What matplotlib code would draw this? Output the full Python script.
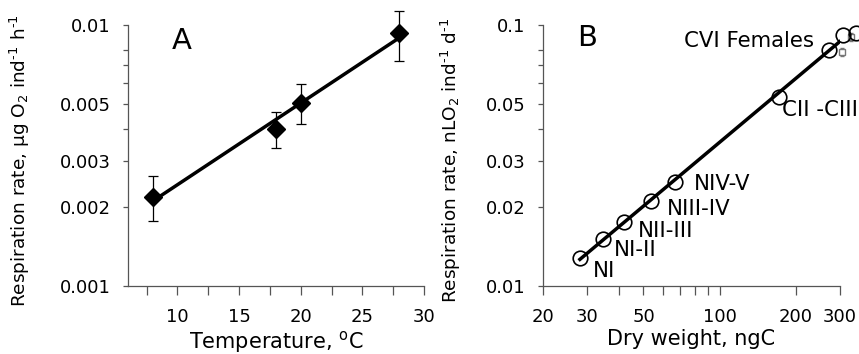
import matplotlib
matplotlib.use("Agg")
import matplotlib.pyplot as plt
from matplotlib.ticker import FixedLocator, FixedFormatter, NullFormatter
import numpy as np

plt.rcParams["font.family"] = ["DejaVu Sans"]

# panel A: respiration vs temperature
temp = [8, 18, 20, 28]
resp_a = [0.0022, 0.0040, 0.00504, 0.00929]
err_lo_a = [0.00177, 0.00339, 0.00418, 0.00728]
err_hi_a = [0.00265, 0.00466, 0.00593, 0.0113]

# panel B: respiration vs dry weight (stages)
weight = [28, 34.5, 42, 53.3, 66.9, 172, 272, 307, 348]
resp_b = [0.01285, 0.01514, 0.01764, 0.02117, 0.0251, 0.0528, 0.0802, 0.0915, 0.0932]
stages = ["NI", "NI-II", "NII-III", "NIII-IV", "NIV-V", "CII -CIII", "CVI Females"]
# small grey squares near the adult points
sq_weight = [305, 333]
sq_resp = [0.0788, 0.0900]
sq_err = [0.003, 0.003]

ytick_a = [0.001, 0.002, 0.003, 0.005, 0.01]
ytick_a_lab = ["0.001", "0.002", "0.003", "0.005", "0.01"]
yminor_a = [0.004, 0.006, 0.007, 0.008]
ytick_b = [0.01, 0.02, 0.03, 0.05, 0.1]
ytick_b_lab = ["0.01", "0.02", "0.03", "0.05", "0.1"]
yminor_b = [0.04, 0.06, 0.07, 0.08]
xtick_b = [20, 30, 50, 100, 200, 300]
xminor_b = [40, 60, 70, 80, 90]

W, H = 859, 354
fig = plt.figure(figsize=(W / 100, H / 100), dpi=100)
axA = fig.add_axes([128 / W, (H - 286) / H, 296 / W, 261 / H])
axB = fig.add_axes([543 / W, (H - 286) / H, 297 / W, 261 / H])

spine_col = "#555555"
for ax in (axA, axB):
    ax.set_yscale("log")
    for s in ("top", "right"):
        ax.spines[s].set_visible(False)
    for s in ("left", "bottom"):
        ax.spines[s].set_color(spine_col)
        ax.spines[s].set_linewidth(0.9)
    ax.tick_params(axis="x", which="both", direction="out", length=6.5, width=0.9,
                   color=spine_col, pad=9, labelsize=13)
    ax.tick_params(axis="y", which="both", direction="out", length=3.6, width=0.9,
                   color=spine_col, pad=9, labelsize=13)

# ---- A ----
axA.errorbar(temp, resp_a,
             yerr=[np.array(resp_a) - np.array(err_lo_a), np.array(err_hi_a) - np.array(resp_a)],
             fmt="none", ecolor="black", elinewidth=0.9, capsize=3.6, capthick=0.9,
             clip_on=False, zorder=2)
b, a = np.polyfit(temp, np.log10(resp_a), 1)
tx = np.array([temp[0], temp[-1]])
axA.plot(tx, 10 ** (a + b * tx), color="black", lw=2.5, zorder=3)
axA.plot(temp, resp_a, "D", color="black", ms=9.5, clip_on=False, zorder=4)
axA.set_xlim(6, 30)
axA.set_ylim(0.001, 0.01)
axA.set_xticks([10, 15, 20, 25, 30])
axA.set_xticks([7.5, 12.5, 17.5, 22.5, 27.5], minor=True)
axA.yaxis.set_major_locator(FixedLocator(ytick_a))
axA.yaxis.set_major_formatter(FixedFormatter(ytick_a_lab))
axA.yaxis.set_minor_locator(FixedLocator(yminor_a))
axA.yaxis.set_minor_formatter(NullFormatter())
axA.set_xlabel("Temperature, $\\mathregular{^oC}$", fontsize=15)
axA.set_ylabel("Respiration rate, µg O$_\\mathregular{2}$ ind$^\\mathregular{‐1}$ h$^\\mathregular{‐1}$",
               fontsize=13.3)
axA.xaxis.set_label_coords(0.5, -0.165)
axA.yaxis.set_label_coords(-0.325, 0.48)
axA.text(0.18, 0.94, "A", transform=axA.transAxes, fontsize=21, ha="center", va="center")

# ---- B ----
wl = np.log10(weight[:8])
rl = np.log10(resp_b[:8])
bb, ab = np.polyfit(wl, rl, 1)
wx = np.array([weight[0], weight[7]])
axB.plot(wx, 10 ** (ab + bb * np.log10(wx)), color="black", lw=2.5, zorder=3)
axB.errorbar(sq_weight, sq_resp, yerr=sq_err, fmt="s", ms=4, mfc="white", mec="#777777",
             ecolor="#777777", elinewidth=0.8, capsize=1.5, clip_on=False, zorder=4)
axB.plot(weight, resp_b, "o", ms=10.5, mfc="none", mec="black", mew=1.2,
         clip_on=False, zorder=5)

offsets = [(13, -13), (11, -11), (14, -9), (16, -8), (18, -2), (3, -13)]
for i, lab in enumerate(stages[:6]):
    axB.annotate(lab, (weight[i], resp_b[i]), xytext=offsets[i], textcoords="offset pixels",
                 ha="left", va="center", fontsize=15.3)
axB.annotate(stages[6], (weight[6], resp_b[6]), xytext=(-15, 9), textcoords="offset pixels",
             ha="right", va="center", fontsize=15.3)

axB.set_xscale("log")
axB.set_xlim(20, 300)
axB.set_ylim(0.01, 0.1)
axB.xaxis.set_major_locator(FixedLocator(xtick_b))
axB.xaxis.set_major_formatter(FixedFormatter([str(v) for v in xtick_b]))
axB.xaxis.set_minor_locator(FixedLocator(xminor_b))
axB.xaxis.set_minor_formatter(NullFormatter())
axB.yaxis.set_major_locator(FixedLocator(ytick_b))
axB.yaxis.set_major_formatter(FixedFormatter(ytick_b_lab))
axB.yaxis.set_minor_locator(FixedLocator(yminor_b))
axB.yaxis.set_minor_formatter(NullFormatter())
axB.set_xlabel("Dry weight, ngC", fontsize=15)
axB.set_ylabel("Respiration rate, nLO$_\\mathregular{2}$ ind$^\\mathregular{‐1}$ d$^\\mathregular{‐1}$",
               fontsize=13.3)
axB.xaxis.set_label_coords(0.5, -0.165)
axB.yaxis.set_label_coords(-0.27, 0.48)
axB.text(0.15, 0.95, "B", transform=axB.transAxes, fontsize=21, ha="center", va="center")

fig.savefig("out.png", dpi=100)
